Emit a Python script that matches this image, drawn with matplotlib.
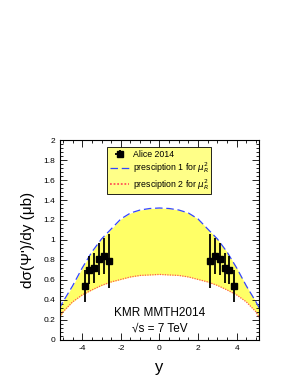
"""KMR MMTH2014 psi(2S) rapidity distribution vs ALICE 2014 data."""
import numpy as np
import matplotlib.pyplot as plt
from matplotlib.ticker import MultipleLocator

plt.rcParams['font.family'] = ['Liberation Sans', 'DejaVu Sans']

# theory band (symmetric in y)
y_half = [0.0, 0.5, 1.0, 1.5, 2.0, 2.5, 3.0, 3.5, 4.0, 4.5, 5.0, 5.2]
upper_half = [1.32, 1.315, 1.30, 1.27, 1.21, 1.11, 1.01, 0.88, 0.72, 0.54, 0.38, 0.31]
lower_half = [0.655, 0.65, 0.645, 0.63, 0.605, 0.58, 0.545, 0.50, 0.45, 0.38, 0.28, 0.21]

# ALICE 2014 points (positive rapidity side, mirrored)
alice_y = [2.625, 2.875, 3.125, 3.375, 3.625, 3.875]
alice_val = [0.79, 0.84, 0.81, 0.72, 0.70, 0.54]
alice_err = [0.27, 0.18, 0.16, 0.15, 0.14, 0.16]

xticks = [-4, -2, 0, 2, 4]
yticks = [0, 0.2, 0.4, 0.6, 0.8, 1, 1.2, 1.4, 1.6, 1.8, 2]
ytick_labels = ["0", "0.2", "0.4", "0.6", "0.8", "1", "1.2", "1.4", "1.6", "1.8", "2"]

yy = np.concatenate([-np.array(y_half[:0:-1]), y_half])
up = np.concatenate([upper_half[:0:-1], upper_half])
lo = np.concatenate([lower_half[:0:-1], lower_half])

dy = np.concatenate([-np.array(alice_y[::-1]), alice_y])
dv = np.concatenate([alice_val[::-1], alice_val])
de = np.concatenate([alice_err[::-1], alice_err])

fig = plt.figure(figsize=(3.0, 3.88), dpi=100)
ax = fig.add_axes([0.2, 0.124, 0.663, 0.515])

ax.fill_between(yy, lo, up, color="#ffff66", lw=0)
ax.plot(yy, up, color="#3344ff", lw=0.9, ls=(0, (6, 3)), label=r"presciption 1 for $\mu_R^2$")
ax.plot(yy, lo, color="#ff5555", lw=0.9, ls=(0, (1, 1)), label=r"presciption 2 for $\mu_R^2$")
ax.errorbar(dy, dv, yerr=de, xerr=0.125, fmt="s", color="black", ms=5,
            elinewidth=1.3, capsize=0, label="Alice 2014")

ax.text(0, 0.27, "KMR MMTH2014", ha="center", va="center", fontsize=8.5)
ax.text(0, 0.11, "\u221as = 7 TeV", ha="center", va="center", fontsize=8.5)

ax.set_xlim(-5.15, 5.15)
ax.set_ylim(0, 2)
ax.set_xticks(xticks)
ax.set_xticklabels([str(v) for v in xticks])
ax.set_yticks(yticks)
ax.set_yticklabels(ytick_labels)
ax.xaxis.set_minor_locator(MultipleLocator(0.5))
ax.yaxis.set_minor_locator(MultipleLocator(0.04))
ax.tick_params(which="both", direction="in", top=True, right=True, labelsize=6, width=0.6)
ax.tick_params(which="major", length=5)
ax.tick_params(which="minor", length=2.5)
for s in ax.spines.values():
    s.set_linewidth(0.8)

ax.set_xlabel("y", fontsize=12, labelpad=6)
ax.set_ylabel("d\u03c3(\u03a8')/dy (\u03bcb)", fontsize=11, labelpad=6)

h, l = ax.get_legend_handles_labels()
leg = ax.legend([h[2], h[0], h[1]], [l[2], l[0], l[1]], loc="upper center",
                bbox_to_anchor=(0.5, 0.963), fontsize=6.3, frameon=True,
                fancybox=False, edgecolor="black", facecolor="#ffff88",
                framealpha=1, handlelength=2.2, handletextpad=0.4,
                borderpad=0.3, labelspacing=0.15, borderaxespad=0)
leg.get_frame().set_linewidth(0.6)
for line in leg.get_lines()[1:]:
    line.set_linewidth(1.3)

fig.savefig("out.png", dpi=100)
